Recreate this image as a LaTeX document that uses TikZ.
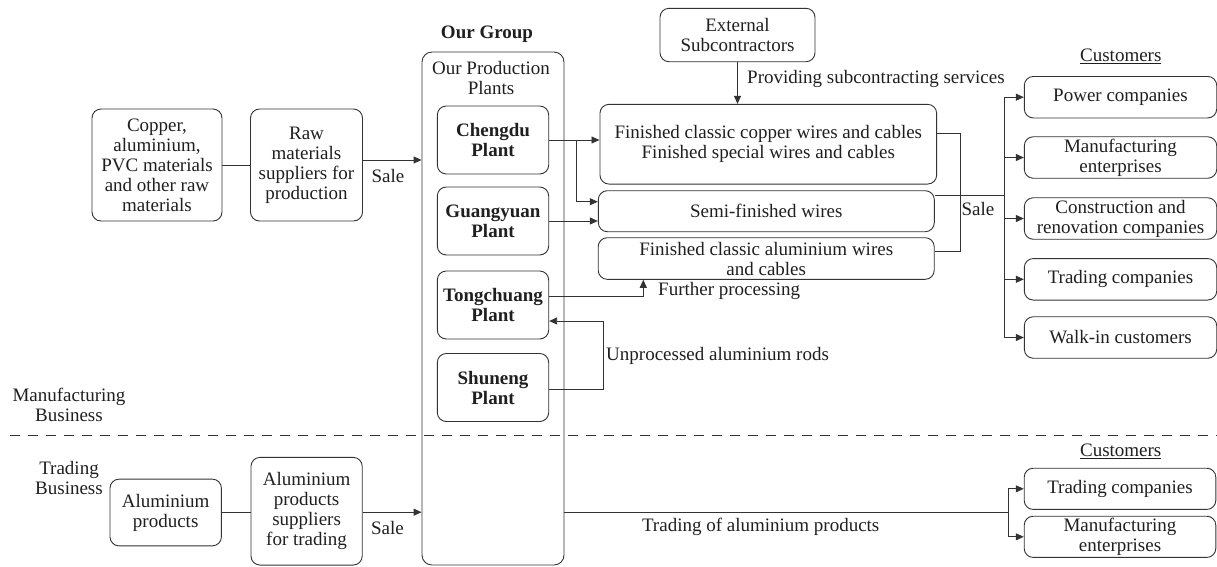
\documentclass[tikz,border=0pt]{standalone}
\usepackage{fontspec}
\setmainfont{LiberationSerif}[Extension=.ttf, UprightFont=*-Regular, BoldFont=*-Bold, ItalicFont=*-Italic, BoldItalicFont=*-BoldItalic]
\usetikzlibrary{arrows.meta}
\begin{document}
\begin{tikzpicture}[x=1pt,y=-1pt,
  every node/.append style={font=\fontsize{19}{20}\selectfont, text=black!88},
  box/.style={draw=black!80, line width=0.9pt, rounded corners=9pt, align=center, inner sep=0pt},
  plant/.style={box, minimum width=111.4pt, minimum height=68pt, font=\fontsize{19}{20}\selectfont\bfseries},
  cust/.style={box, minimum width=192.4pt, minimum height=41.5pt},
  lbl/.style={inner sep=0pt, align=center},
  ln/.style={draw=black!80, line width=0.9pt},
  arr/.style={ln, -{Triangle[length=8pt,width=7pt]}}]
\useasboundingbox (0,0) rectangle (1217,566);

% left column, manufacturing
\node[box, minimum width=130pt, minimum height=112pt] (copper) at (157,165) {Copper,\\aluminium,\\PVC materials\\and other raw\\materials};
\node[box, minimum width=112pt, minimum height=112pt] (raw) at (306.5,165) {Raw\\materials\\suppliers for\\production};
\draw[ln] (copper.east) -- (raw.west);

% group
\node[box, minimum width=142pt, minimum height=513pt, rounded corners=10pt] (grp) at (493,308.5) {};
\node[lbl, font=\fontsize{19}{20}\selectfont\bfseries] (ourgroup) at (487,34) {Our Group};
\node[lbl] (opp) at (491,78) {Our Production\\Plants};
\node[plant] (cheng) at (493,140) {Chengdu\\Plant};
\node[plant] (guang) at (493,221) {Guangyuan\\Plant};
\node[plant] (tong) at (493,305) {Tongchuang\\Plant};
\node[plant] (shun) at (493,387.5) {Shuneng\\Plant};

\coordinate (s1) at ([yshift=5pt]raw.east);
\draw[arr] (s1) -- (s1 -| grp.west);
\node[lbl] (sale1) at (388,176) {Sale};

% products
\node[box, minimum width=155pt, minimum height=53.4pt] (ext) at (737.5,35) {External\\Subcontractors};
\node[box, minimum width=336.7pt, minimum height=79.7pt] (fin) at (768.3,144.2) {Finished classic copper wires and cables\\Finished special wires and cables};
\node[box, minimum width=336pt, minimum height=41pt] (semi) at (766.3,211.2) {Semi-finished wires};
\node[box, minimum width=336pt, minimum height=41.6pt] (alu) at (766.2,258.5) {Finished classic aluminium wires\\and cables};

\draw[arr] (ext.south) -- (ext.south |- fin.north);
\node[lbl, anchor=west] (prov) at (747,79) {Providing subcontracting services};

\draw[arr] (cheng.east) -- (cheng.east -| fin.west);
\coordinate (jb) at (576,140);
\coordinate (sm1) at ([yshift=9.5pt]semi.west);
\draw[arr] (jb) |- (sm1);
\draw[arr] (guang.east) -- (guang.east -| semi.west);

\coordinate (t1) at ([yshift=9pt]tong.east);
\coordinate (fpx) at (643.3,0);
\draw[arr] (t1) -| (fpx |- alu.south);
\node[lbl, anchor=west] (furth) at (658,291) {Further processing};

\coordinate (s2) at ([yshift=-1.5pt]shun.east);
\coordinate (t2) at ([yshift=-16pt]tong.east);
\coordinate (ux) at (603.3,0);
\draw[arr] (s2) -| (ux |- t2) -- (t2);
\node[lbl, anchor=west] (unproc) at (606,356) {Unprocessed aluminium rods};

% sale bracket
\coordinate (f1) at ([yshift=11pt]fin.east);
\coordinate (a1) at ([yshift=6.8pt]alu.east);
\coordinate (bx) at (960,0);
\draw[ln] (f1) -| (bx |- a1) -- (a1);
\coordinate (s3) at ([yshift=16.2pt]semi.east);
\coordinate (cx) at (1004,0);
\draw[ln] (s3) -- (cx |- s3);
\node[lbl] (sale2) at (978,209) {Sale};

% customers
\node[lbl] (cust1) at (1120.8,56.7) {\underline{Customers}};
\node[cust] (pow) at (1120.5,97.2) {Power companies};
\node[cust] (man) at (1120.5,157.5) {Manufacturing\\enterprises};
\node[cust] (con) at (1120.5,218.5) {Construction and\\renovation companies};
\node[cust] (tra) at (1120.5,279.3) {Trading companies};
\node[cust] (walk) at (1120.5,337.5) {Walk-in customers};
\foreach \n in {pow,man,con,tra,walk} \draw[arr] (cx |- s3) |- (\n.west);

% divider
\coordinate (dl) at (10,435.5);
\coordinate (dr) at (1217,435.5);
\draw[ln, dash pattern=on 10pt off 8pt, line width=0.8pt] (dl) -- (dr);
\node[lbl] (mfg) at (69,405) {Manufacturing\\Business};
\node[lbl] (trd) at (69,478) {Trading\\Business};

% trading
\node[box, minimum width=111.4pt, minimum height=66.7pt] (alprod) at (165.7,512.5) {Aluminium\\products};
\node[box, minimum width=111.2pt, minimum height=107.7pt] (alsup) at (306.6,511.2) {Aluminium\\products\\suppliers\\for trading};
\draw[ln] (alprod.east) -- (alprod.east -| alsup.west);
\coordinate (s4) at ([yshift=-1pt]alsup.east);
\draw[arr] (s4) -- (s4 -| grp.west);
\node[lbl] (sale3) at (387.5,527.7) {Sale};

\node[lbl] (cust2) at (1120.7,451.7) {\underline{Customers}};
\node[cust, minimum width=191.6pt, minimum height=41.2pt] (btra) at (1120,488.8) {Trading companies};
\node[cust, minimum width=191.6pt, minimum height=41.2pt] (bman) at (1120,536.8) {Manufacturing\\enterprises};
\coordinate (ty) at (0,512.7);
\coordinate (tx) at (1008.3,0);
\draw[ln] (grp.east |- ty) -- (tx |- ty);
\draw[arr] (tx |- ty) |- (btra.west);
\draw[arr] (tx |- ty) |- (bman.west);
\node[lbl] (trdal) at (760.7,526.7) {Trading of aluminium products};
\end{tikzpicture}
\end{document}
